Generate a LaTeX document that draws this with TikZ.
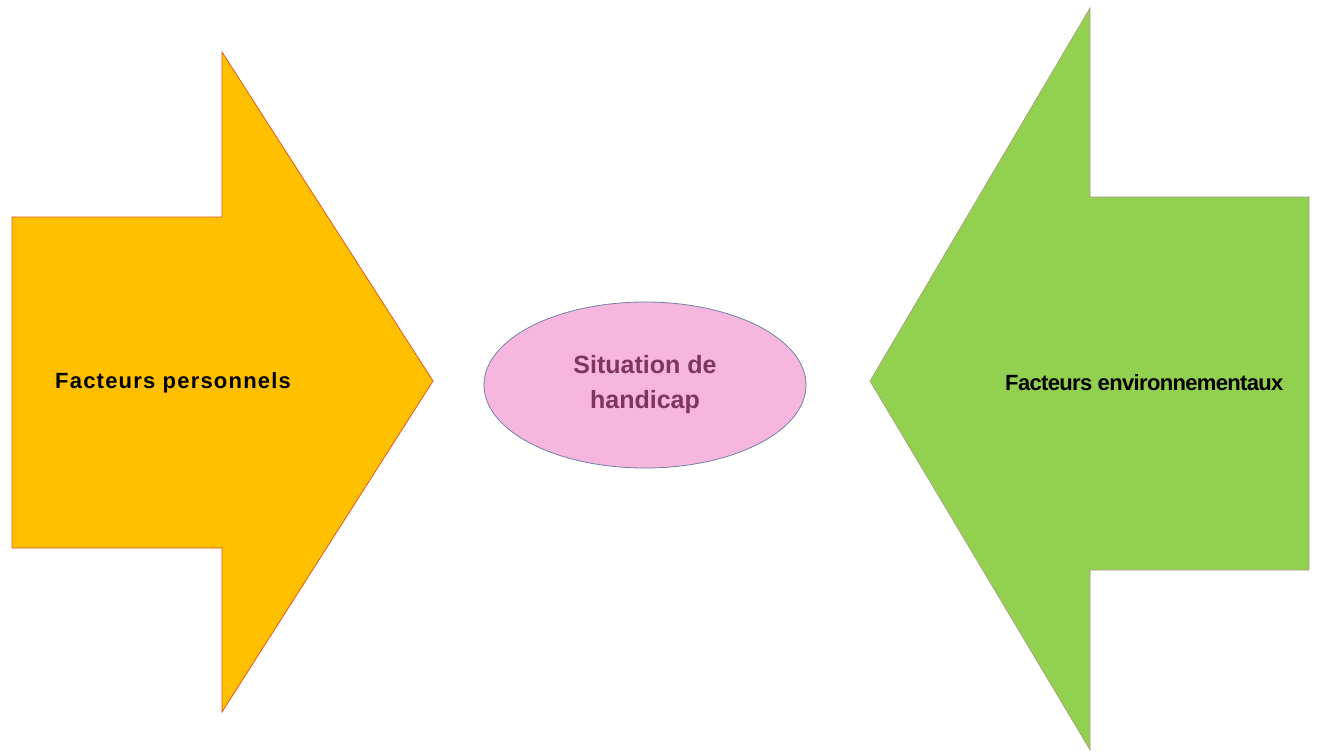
\documentclass[tikz,border=0pt]{standalone}
\usepackage{fontspec}
\setmainfont{Liberation Sans}
\usetikzlibrary{shapes.geometric}
\definecolor{persorange}{HTML}{FFC000}
\definecolor{persborder}{HTML}{E8561E}
\definecolor{envgreen}{HTML}{92D050}
\definecolor{envborder}{HTML}{A89A80}
\definecolor{sitpink}{HTML}{F6B6DE}
\definecolor{sitborder}{HTML}{7082A6}
\definecolor{sittext}{HTML}{7E3562}
\tikzset{
  facteur/.style={font=\fontsize{22}{26}\selectfont\bfseries, text=black, inner sep=0pt},
}
\begin{document}
\begin{tikzpicture}[x=1pt, y=-1pt]
	\useasboundingbox[fill=white] (0,0) rectangle (1319,753);
	% personal factors
	\draw[persborder, fill=persorange, line width=0.8pt] (12,217) -- (222,217) -- (222,52) -- (433,381) -- (222,712) -- (222,548) -- (12,548) -- cycle;
	% environmental factors
	\draw[envborder, fill=envgreen, line width=0.6pt] (1309,197) -- (1090,197) -- (1090,8) -- (870,381) -- (1090,750) -- (1090,570) -- (1309,570) -- cycle;
	% situation
	\node[ellipse, draw=sitborder, fill=sitpink, line width=0.8pt, minimum width=322pt, minimum height=166pt,
	      align=center, text=sittext, font=\fontsize{25}{35}\selectfont\bfseries] (situation) at (645,385) {Situation de\\handicap};
	\node[facteur, anchor=west] (personnels) at (55,383) {\addfontfeature{LetterSpace=5.5}Facteurs personnels};
	\node[facteur, anchor=west] (environnement) at (1005,383) {\addfontfeature{LetterSpace=-3}Facteurs environnementaux};
\end{tikzpicture}
\end{document}
